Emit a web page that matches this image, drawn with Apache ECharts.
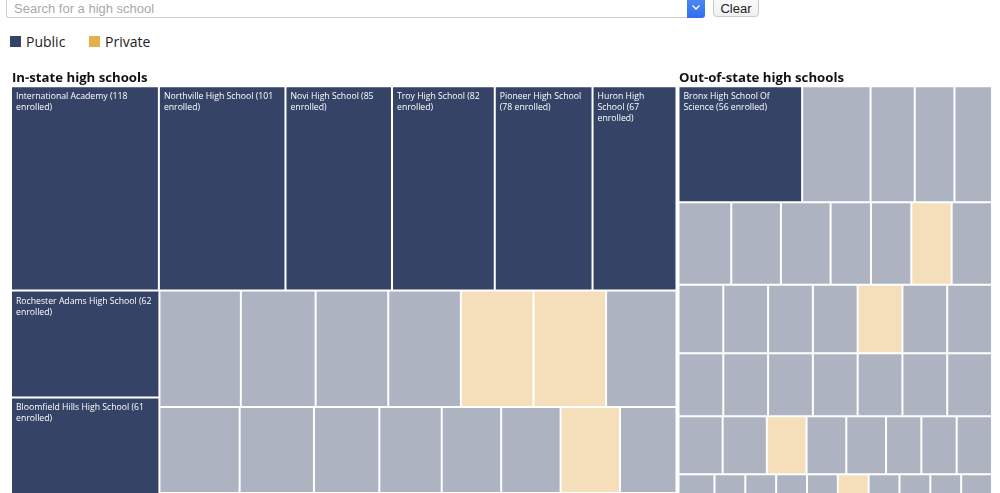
<!DOCTYPE html>
<html>
<head>
<meta charset="utf-8">
<title>High schools</title>
<script src="https://cdn.jsdelivr.net/npm/echarts@6/dist/echarts.min.js"></script>
<style>
  html, body { margin: 0; padding: 0; background: #fff; overflow: hidden; }
  body { position: relative; width: 1000px; height: 493px; font-family: 'Liberation Sans', Arial, sans-serif; }
  #search { position: absolute; left: 6px; top: -10px; width: 681px; height: 28px; box-sizing: border-box;
    border: 1px solid #cfcfcf; border-right: none; border-radius: 3px 0 0 3px; padding: 11px 0 0 7px;
    font-size: 13px; line-height: 14px; color: #a9a9a9; }
  #drop { position: absolute; left: 687px; top: -10px; width: 18px; height: 28px; border-radius: 0 3px 3px 0;
    background: linear-gradient(#5b95f8, #2f6fec); }
  #drop svg { position: absolute; left: 0; top: 0; }
  #clear { position: absolute; left: 713px; top: -10px; width: 46px; height: 27px; box-sizing: border-box;
    border: 1px solid #c9c9c9; border-radius: 4px; background: linear-gradient(#ffffff, #f1f1f1);
    padding-top: 11px; text-align: center; font-size: 13px; line-height: 14px; color: #222; }
  .sw { position: absolute; top: 36px; width: 11px; height: 11px; }
  .lg { position: absolute; top: 32px; font-family: 'Open Sans', sans-serif; font-size: 14px; line-height: 20px; color: #222; }
  #chart { position: absolute; left: 0; top: 0; width: 1000px; height: 960px; }
</style>
</head>
<body>
<div id="search">Search for a high school</div>
<div id="drop"><svg width="18" height="28"><polyline points="5.5,15.5 9,19 12.5,15.5" fill="none" stroke="#fff" stroke-width="1.4"/></svg></div>
<div id="clear">Clear</div>
<div class="sw" style="left:10px;background:#354466"></div><div class="lg" style="left:26px">Public</div>
<div class="sw" style="left:89px;background:#e6af4e"></div><div class="lg" style="left:105px">Private</div>
<div id="chart"></div>
<script>
// labelled (top) schools
var inStateTopSchools = ['International Academy', 'Northville High School', 'Novi High School', 'Troy High School',
    'Pioneer High School', 'Huron High School', 'Rochester Adams High School', 'Bloomfield Hills High School'];
var inStateTopEnrolled = [118, 101, 85, 82, 78, 67, 62, 61];
var outStateTopSchools = ['Bronx High School Of Science'];
var outStateTopEnrolled = [56];

// remaining schools, largest first (most of them sit below the visible area)
var inStateOtherEnrolled = [55, 52, 50, 48, 46, 37, 34, 33, 33, 33, 33, 32, 27, 25, 22, 21, 20, 20, 20, 19,
    13, 13, 13, 13, 13, 13, 13, 13, 13, 12, 12, 12, 12, 12, 12, 12, 12, 12, 12,
    11, 11, 11, 11, 11, 11, 11, 11, 11, 11, 10, 10, 10, 10, 10, 10, 10, 10, 10, 10, 10,
    9, 9, 9, 9, 9, 9, 9, 9, 9, 8, 8, 8, 8, 8, 8, 8, 8, 8, 8, 8, 7, 7, 7, 7, 7, 7, 7, 7,
    6, 6, 6, 6, 6, 6, 6, 6, 6, 5, 5, 5, 5, 5, 5, 5, 5, 5, 5, 4, 4, 4, 4, 4, 4, 4, 4, 4, 4, 4,
    3, 3, 3, 3, 3, 3, 3, 3, 3, 3, 3, 3, 2, 2, 2, 2, 2, 2, 2, 2, 2, 2, 1, 1, 1, 1, 1, 1, 1, 1];
var inStatePrivateIdx = [9, 10, 18, 27, 44, 63, 85, 102, 121];

var outStateOtherEnrolled = [31, 20, 18, 17, 17, 16, 16, 13, 13, 13, 13, 12, 12, 12, 12, 12, 12, 12,
    11, 11, 11, 11, 11, 11, 11, 10, 10, 9, 9, 9, 8, 8, 8, 7, 6, 6, 6, 6, 6, 6, 6, 6, 6,
    6, 6, 6, 6, 6, 6, 6, 6, 6, 6, 6, 6, 5, 5, 5, 5, 5, 5, 5, 5, 5, 5, 5, 5, 5, 5, 5,
    4, 4, 4, 4, 4, 4, 4, 4, 4, 4, 4, 4, 4, 4, 4, 4, 4, 3, 3, 3, 3, 3, 3, 3, 3, 3, 3, 3, 3, 3, 3, 3, 3, 3, 3, 3,
    2, 2, 2, 2, 2, 2, 2, 2, 2, 2, 2, 2, 2, 2, 2, 2, 2, 2, 2, 2, 2, 2,
    1, 1, 1, 1, 1, 1, 1, 1, 1, 1, 1, 1, 1, 1, 1, 1, 1, 1, 1, 1, 1, 1, 1, 1];
var outStatePrivateIdx = [9, 15, 27, 38, 50, 71, 96, 130];

var NAVY = '#354466';
var PUBLIC_FADED = '#aeb3c1';
var PRIVATE_FADED = '#f4dfba';

function buildData(topNames, topValues, otherValues, privateIdx) {
    var items = topNames.map(function (name, i) {
        return { name: name, value: topValues[i], itemStyle: { color: NAVY }, label: { show: true } };
    });
    otherValues.forEach(function (v, i) {
        items.push({
            name: '',
            value: v,
            itemStyle: { color: privateIdx.indexOf(i) >= 0 ? PRIVATE_FADED : PUBLIC_FADED },
            label: { show: false }
        });
    });
    return items;
}

function treemap(name, left, top, width, height, data) {
    return {
        type: 'treemap',
        name: name,
        left: left, top: top, width: width, height: height,
        data: data,
        sort: false,
        roam: false,
        nodeClick: false,
        visibleMin: 0,
        squareRatio: 0.5 * (1 + Math.sqrt(5)),
        breadcrumb: { show: false },
        emphasis: { disabled: true },
        levels: [
            { itemStyle: { borderWidth: 0, gapWidth: 2, borderColor: '#fff' } },
            { itemStyle: { borderWidth: 0, gapWidth: 0 } }
        ],
        label: {
            position: 'insideTopLeft',
            overflow: 'break',
            padding: [4, 4, 0, 4],
            fontFamily: 'Open Sans',
            fontSize: 8.7,
            lineHeight: 11,
            color: '#fff',
            textBorderWidth: 0,
            formatter: function (p) { return p.name + ' (' + p.value + ' enrolled)'; }
        },
        upperLabel: { show: false }
    };
}

var myChart = echarts.init(document.getElementById('chart'), null, { renderer: 'canvas' });

var titleStyle = { fontFamily: 'Open Sans', fontWeight: 'bold', fontSize: 13.2, color: '#111' };

myChart.setOption({
    animation: false,
    title: [
        { text: 'In-state high schools', left: 12, top: 71.5, padding: 0, textStyle: titleStyle },
        { text: 'Out-of-state high schools', left: 679, top: 71.5, padding: 0, textStyle: titleStyle }
    ],
    series: [
        treemap('In-state', 12, 87.3, 663.5, 847.4,
            buildData(inStateTopSchools, inStateTopEnrolled, inStateOtherEnrolled, inStatePrivateIdx)),
        treemap('Out-of-state', 679.5, 87.3, 311.5, 713.3,
            buildData(outStateTopSchools, outStateTopEnrolled, outStateOtherEnrolled, outStatePrivateIdx))
    ]
});
</script>
</body>
</html>
